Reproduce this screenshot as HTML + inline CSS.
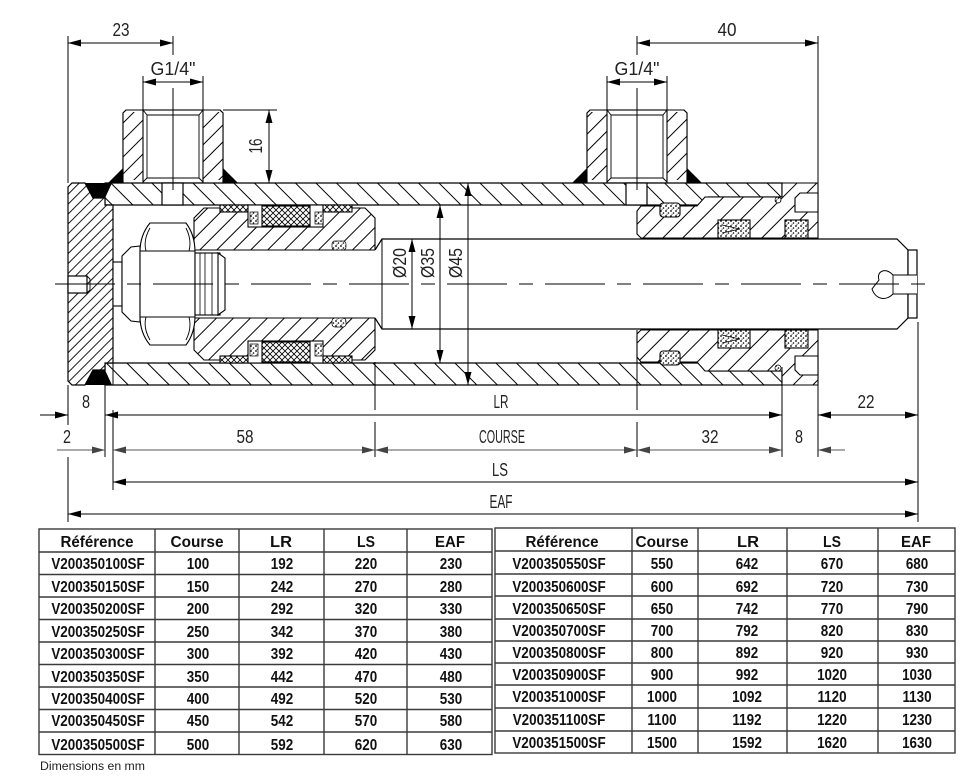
<!DOCTYPE html>
<html>
<head>
<meta charset="utf-8">
<style>
html,body{margin:0;padding:0;background:#fff;}
svg{display:block;}
.d{font-family:"Liberation Sans",sans-serif;font-size:18px;fill:#222;}
.t{font-family:"Liberation Sans",sans-serif;font-size:16px;font-weight:bold;fill:#111;}
</style>
</head>
<body>
<svg width="975" height="778" viewBox="0 0 975 778" xmlns="http://www.w3.org/2000/svg">
<defs>
  <pattern id="hT" patternUnits="userSpaceOnUse" width="14.5" height="14.5" patternTransform="rotate(-45)"><rect width="14.5" height="14.5" fill="#fff"/><line x1="7" y1="0" x2="7" y2="14.5" stroke="#000" stroke-width="1"/></pattern>
  <pattern id="hP" patternUnits="userSpaceOnUse" width="12" height="12" patternTransform="rotate(45)"><rect width="12" height="12" fill="#fff"/><line x1="6" y1="0" x2="6" y2="12" stroke="#000" stroke-width="1"/></pattern>
  <pattern id="hE" patternUnits="userSpaceOnUse" width="7" height="7" patternTransform="rotate(45)"><rect width="7" height="7" fill="#fff"/><line x1="3.5" y1="0" x2="3.5" y2="7" stroke="#000" stroke-width="0.9"/></pattern>
  <pattern id="hG" patternUnits="userSpaceOnUse" width="14" height="14" patternTransform="rotate(45)"><rect width="14" height="14" fill="#fff"/><line x1="7" y1="0" x2="7" y2="14" stroke="#000" stroke-width="1"/></pattern>
  <pattern id="hX" patternUnits="userSpaceOnUse" width="6" height="6"><rect width="6" height="6" fill="#fff"/><path d="M0,0 L6,6 M6,0 L0,6" stroke="#000" stroke-width="0.8"/></pattern>
  <pattern id="hS" patternUnits="userSpaceOnUse" width="5" height="5"><rect width="5" height="5" fill="#fff"/><circle cx="1" cy="1" r="0.9" fill="#000"/><circle cx="3.5" cy="3" r="0.8" fill="#000"/><circle cx="2" cy="4.3" r="0.5" fill="#000"/></pattern>
  <marker id="a" markerWidth="13" markerHeight="7" refX="13" refY="3.5" orient="auto-start-reverse" markerUnits="userSpaceOnUse"><path d="M0,0 L13,3.5 L0,7z" fill="#000"/></marker>
  <marker id="g" markerWidth="13" markerHeight="7" refX="13" refY="3.5" orient="auto-start-reverse" markerUnits="userSpaceOnUse"><path d="M0,0 L13,3.5 L0,7z" fill="#444"/></marker>
</defs>
<rect width="975" height="778" fill="#fff"/>

<!-- ===== PORTS ===== -->
<g stroke="#000" stroke-width="1.1">
  <polygon points="123,113 126,110 220,110 223,113 223,183 123,183" fill="#fff"/>
  <rect x="123" y="112" width="20" height="68" fill="url(#hP)" stroke="none"/>
  <rect x="203" y="112" width="20" height="68" fill="url(#hP)" stroke="none"/>
  <polygon points="123,113 126,110 220,110 223,113 223,183 123,183" fill="none"/>
  <rect x="143" y="110" width="60" height="73" fill="#fff"/>
  <path d="M147,115 H199 V178 H147 Z M143,110 L147,115 M203,110 L199,115 M143,182 L147,178 M203,182 L199,178" fill="none" stroke-width="0.9"/>
  <polygon points="587,113 590,110 684,110 687,113 687,183 587,183" fill="#fff"/>
  <rect x="587" y="112" width="20" height="68" fill="url(#hP)" stroke="none"/>
  <rect x="667" y="112" width="20" height="68" fill="url(#hP)" stroke="none"/>
  <polygon points="587,113 590,110 684,110 687,113 687,183 587,183" fill="none"/>
  <rect x="607" y="110" width="60" height="73" fill="#fff"/>
  <path d="M611,115 H663 V178 H611 Z M607,110 L611,115 M667,110 L663,115 M607,182 L611,178 M667,182 L663,178" fill="none" stroke-width="0.9"/>
</g>
<g fill="#000">
  <polygon points="108,183 123,183 123,168"/>
  <polygon points="223,168 238,183 223,183"/>
  <polygon points="572,183 587,183 587,168"/>
  <polygon points="687,168 702,183 687,183"/>
</g>

<!-- ===== TUBE ===== -->
<g stroke="#000" stroke-width="1.2">
  <polygon points="105,183 782,183 782,197 708,197 700,205 105,205" fill="url(#hT)"/>
  <polygon points="105,385 782,385 782,371 708,371 700,363 105,363" fill="url(#hT)"/>
  <rect x="162" y="183" width="21" height="22" fill="#fff"/>
  <rect x="626" y="183" width="21" height="22" fill="#fff"/>
</g>

<!-- ===== END CAP ===== -->
<g stroke="#000" stroke-width="1.2">
  <polygon points="68,187 72,183 85,183 93,198 105,198 105,205 113,205 113,363 105,363 105,370 93,370 85,385 72,385 68,381" fill="url(#hE)"/>
  <rect x="68" y="276" width="19" height="17" fill="#fff"/>
  <path d="M87,276 L90,279 V290 L87,293" fill="none" stroke-width="0.9"/>
</g>
<g fill="#000">
  <polygon points="85,183 112,183 105,198 93,198"/>
  <polygon points="85,385 112,385 105,370 93,370"/>
</g>

<!-- ===== PISTON ===== -->
<g stroke="#000" stroke-width="1.1">
  <polygon points="194,218 204,208 365,208 375,218 375,250 194,250" fill="url(#hP)"/>
  <polygon points="194,350 204,360 365,360 375,350 375,318 194,318" fill="url(#hP)"/>
  <rect x="220" y="205" width="28" height="7" fill="url(#hX)"/>
  <rect x="323" y="205" width="29" height="7" fill="url(#hX)"/>
  <rect x="248" y="205" width="75" height="22" fill="#fff"/>
  <rect x="262" y="206" width="48" height="20" fill="url(#hX)"/>
  <rect x="250" y="212" width="8" height="12" fill="url(#hS)" stroke-width="0.7"/>
  <rect x="315" y="212" width="8" height="12" fill="url(#hS)" stroke-width="0.7"/>
  <rect x="332" y="241" width="14" height="9" rx="3" fill="url(#hS)" stroke-width="0.7"/>
  <rect x="220" y="356" width="28" height="7" fill="url(#hX)"/>
  <rect x="323" y="356" width="29" height="7" fill="url(#hX)"/>
  <rect x="248" y="341" width="75" height="22" fill="#fff"/>
  <rect x="262" y="342" width="48" height="20" fill="url(#hX)"/>
  <rect x="250" y="344" width="8" height="12" fill="url(#hS)" stroke-width="0.7"/>
  <rect x="315" y="344" width="8" height="12" fill="url(#hS)" stroke-width="0.7"/>
  <rect x="332" y="318" width="14" height="9" rx="3" fill="url(#hS)" stroke-width="0.7"/>
</g>

<!-- ===== NUT / WASHER / THREAD ===== -->
<g stroke="#000" stroke-width="1.1" fill="#fff">
  <rect x="113" y="262" width="9" height="44"/>
  <polygon points="122,256 131,247 140,246 140,322 131,321 122,312"/>
  <path d="M150,223 L186,223 Q195,235 195,252 L195,316 Q195,333 186,345 L150,345 Q140,333 140,316 L140,252 Q140,235 150,223 Z"/>
  <path d="M140,251 H195 M140,317 H195 M146,251 Q143,240 150,228 M189,251 Q192,240 186,228 M146,317 Q143,328 150,340 M189,317 Q192,328 186,340" fill="none" stroke-width="0.9"/>
  <rect x="195" y="253" width="25" height="62"/>
  <polygon points="218,253 225,258 225,310 218,315"/>
  <path d="M200,253 V315 M205,253 V315 M212,253 V315" fill="none" stroke-width="0.8"/>
</g>

<!-- ===== ROD ===== -->
<g stroke="#000" stroke-width="1.2">
  <path d="M375,250 L382,239 L897,239 L908,250 L908,318 L897,329 L382,329 L375,318" fill="#fff"/>
  <path d="M382,239 V329" fill="none" stroke-width="1"/>
  <rect x="908" y="250" width="9" height="68" fill="#fff"/>
  <path d="M917,275 H893 C886,267 876,271 879,280 L872,289 C876,300 886,301 893,294 H917" fill="#fff" stroke-width="1"/>
  <path d="M893,275 V294" fill="none" stroke-width="0.9"/>
</g>

<!-- ===== GLAND ===== -->
<g stroke="#000" stroke-width="1.1">
  <polygon points="637,211 641,206 697,206 705,197 782,197 782,183 818,183 818,238 641,238 637,234" fill="url(#hG)"/>
  <polygon points="637,357 641,362 697,362 705,371 782,371 782,385 818,385 818,330 641,330 637,334" fill="url(#hG)"/>
  <polygon points="800,193 818,193 818,212 795,212 795,198" fill="#fff"/>
  <polygon points="800,375 818,375 818,356 795,356 795,370" fill="#fff"/>
  <rect x="660" y="203" width="20" height="14" rx="3" fill="url(#hS)"/>
  <rect x="660" y="351" width="20" height="14" rx="3" fill="url(#hS)"/>
  <rect x="718" y="220" width="32" height="18" fill="url(#hS)"/>
  <rect x="718" y="330" width="32" height="18" fill="url(#hS)"/>
  <rect x="785" y="220" width="23" height="18" fill="url(#hS)"/>
  <rect x="785" y="330" width="23" height="18" fill="url(#hS)"/>
  <path d="M722,225 L740,229 L722,233 M722,343 L740,339 L722,335" fill="none" stroke-width="0.8"/>
  <circle cx="778" cy="200" r="3" fill="url(#hS)" stroke-width="0.7"/>
  <circle cx="778" cy="368" r="3" fill="url(#hS)" stroke-width="0.7"/>
</g>

<!-- ===== CENTERLINES ===== -->
<g stroke="#000" stroke-width="1" fill="none">
  <line x1="55" y1="284" x2="930" y2="284" stroke-dasharray="60 12 14 12"/>
  <line x1="173" y1="36" x2="173" y2="55"/>
  <line x1="173" y1="88" x2="173" y2="190"/>
  <line x1="637" y1="36" x2="637" y2="55"/>
  <line x1="637" y1="88" x2="637" y2="190"/>
</g>

<!-- ===== EXTENSION LINES ===== -->
<g stroke="#000" stroke-width="1" fill="none">
  <line x1="68" y1="36" x2="68" y2="183"/>
  <line x1="143" y1="76" x2="143" y2="110"/>
  <line x1="203" y1="76" x2="203" y2="110"/>
  <line x1="607" y1="76" x2="607" y2="110"/>
  <line x1="667" y1="76" x2="667" y2="110"/>
  <line x1="223" y1="110" x2="277" y2="110"/>
  <line x1="818" y1="36" x2="818" y2="183"/>
  <line x1="68" y1="385" x2="68" y2="425"/>
  <line x1="68" y1="457" x2="68" y2="522"/>
  <line x1="105" y1="385" x2="105" y2="457"/>
  <line x1="113" y1="363" x2="113" y2="385"/>
  <line x1="113" y1="410" x2="113" y2="490"/>
  <line x1="375" y1="362" x2="375" y2="410"/>
  <line x1="375" y1="422" x2="375" y2="457"/>
  <line x1="637" y1="330" x2="637" y2="410"/>
  <line x1="637" y1="422" x2="637" y2="457"/>
  <line x1="782" y1="367" x2="782" y2="457"/>
  <line x1="818" y1="385" x2="818" y2="457"/>
  <line x1="918" y1="322" x2="918" y2="522"/>
</g>

<!-- ===== DIMENSION LINES ===== -->
<g stroke="#000" stroke-width="1" fill="none">
  <line x1="68" y1="43" x2="173" y2="43" marker-start="url(#a)" marker-end="url(#a)"/>
  <line x1="143" y1="82" x2="203" y2="82" marker-start="url(#a)" marker-end="url(#a)"/>
  <line x1="607" y1="82" x2="667" y2="82" marker-start="url(#a)" marker-end="url(#a)"/>
  <line x1="637" y1="43" x2="818" y2="43" marker-start="url(#a)" marker-end="url(#a)"/>
  <line x1="269" y1="110" x2="269" y2="183" marker-start="url(#a)" marker-end="url(#a)"/>
  <line x1="412" y1="239" x2="412" y2="329" marker-start="url(#a)" marker-end="url(#a)"/>
  <line x1="440" y1="205" x2="440" y2="363" marker-start="url(#a)" marker-end="url(#a)"/>
  <line x1="468" y1="183" x2="468" y2="385" marker-start="url(#a)" marker-end="url(#a)"/>
  <line x1="40" y1="415" x2="68" y2="415" marker-end="url(#a)"/>
  <line x1="105" y1="415" x2="782" y2="415" marker-start="url(#a)" marker-end="url(#a)"/>
  <line x1="818" y1="415" x2="918" y2="415" marker-start="url(#a)" marker-end="url(#a)"/>
  <line x1="113" y1="482" x2="918" y2="482" marker-start="url(#a)" marker-end="url(#a)"/>
  <line x1="68" y1="514" x2="918" y2="514" marker-start="url(#a)" marker-end="url(#a)"/>
</g>
<g stroke="#555" stroke-width="1" fill="none">
  <line x1="57" y1="450" x2="105" y2="450" marker-end="url(#g)"/>
  <line x1="113" y1="450" x2="375" y2="450" marker-start="url(#g)" marker-end="url(#g)"/>
  <line x1="375" y1="450" x2="637" y2="450" marker-start="url(#g)" marker-end="url(#g)"/>
  <line x1="637" y1="450" x2="782" y2="450" marker-start="url(#g)" marker-end="url(#g)"/>
  <line x1="845" y1="450" x2="818" y2="450" marker-end="url(#g)"/>
</g>

<!-- ===== DIMENSION TEXT ===== -->
<g class="d" text-anchor="middle">
  <text x="121" y="36" textLength="17" lengthAdjust="spacingAndGlyphs">23</text>
  <text x="173" y="75" textLength="45" lengthAdjust="spacingAndGlyphs">G1/4"</text>
  <text x="637" y="75" textLength="45" lengthAdjust="spacingAndGlyphs">G1/4"</text>
  <text x="727" y="36" textLength="19" lengthAdjust="spacingAndGlyphs">40</text>
  <text transform="translate(262,146) rotate(-90)" textLength="15" lengthAdjust="spacingAndGlyphs">16</text>
  <text transform="translate(406,263) rotate(-90)" textLength="30" lengthAdjust="spacingAndGlyphs">Ø20</text>
  <text transform="translate(434,263) rotate(-90)" textLength="30" lengthAdjust="spacingAndGlyphs">Ø35</text>
  <text transform="translate(462,263) rotate(-90)" textLength="30" lengthAdjust="spacingAndGlyphs">Ø45</text>
  <text x="86" y="408" textLength="8" lengthAdjust="spacingAndGlyphs">8</text>
  <text x="501" y="408" textLength="15" lengthAdjust="spacingAndGlyphs">LR</text>
  <text x="866" y="408" textLength="17" lengthAdjust="spacingAndGlyphs">22</text>
  <text x="67" y="443" textLength="8" lengthAdjust="spacingAndGlyphs">2</text>
  <text x="245" y="443" textLength="17" lengthAdjust="spacingAndGlyphs">58</text>
  <text x="502" y="443" textLength="46" lengthAdjust="spacingAndGlyphs">COURSE</text>
  <text x="710" y="443" textLength="17" lengthAdjust="spacingAndGlyphs">32</text>
  <text x="799" y="443" textLength="8" lengthAdjust="spacingAndGlyphs">8</text>
  <text x="500" y="476" textLength="16" lengthAdjust="spacingAndGlyphs">LS</text>
  <text x="501" y="508" textLength="23" lengthAdjust="spacingAndGlyphs">EAF</text>
</g>

<!-- ===== LEFT TABLE ===== -->
<g stroke="#3a3a3a" stroke-width="1.4" fill="none">
  <rect x="39" y="529" width="453" height="225.5"/>
  <path d="M155,529 V754.5 M239,529 V754.5 M324,529 V754.5 M407,529 V754.5"/>
  <path d="M39,552 H492 M39,574.5 H492 M39,597 H492 M39,619.5 H492 M39,642 H492 M39,664.5 H492 M39,687 H492 M39,709.5 H492 M39,732 H492"/>
</g>
<g class="t" text-anchor="middle">
  <text x="97" y="547" textLength="73" lengthAdjust="spacingAndGlyphs">Référence</text>
  <text x="197" y="547" textLength="53" lengthAdjust="spacingAndGlyphs">Course</text>
  <text x="281" y="547" textLength="22" lengthAdjust="spacingAndGlyphs">LR</text>
  <text x="366" y="547" textLength="18" lengthAdjust="spacingAndGlyphs">LS</text>
  <text x="450" y="547" textLength="30" lengthAdjust="spacingAndGlyphs">EAF</text>
</g>
<g class="t" text-anchor="middle" transform="scale(0.84,1)">
  <text x="116.7" y="569">V200350100SF</text><text x="235.7" y="569">100</text><text x="335.7" y="569">192</text><text x="435.7" y="569">220</text><text x="536.9" y="569">230</text>
  <text x="116.7" y="592">V200350150SF</text><text x="235.7" y="592">150</text><text x="335.7" y="592">242</text><text x="435.7" y="592">270</text><text x="536.9" y="592">280</text>
  <text x="116.7" y="614">V200350200SF</text><text x="235.7" y="614">200</text><text x="335.7" y="614">292</text><text x="435.7" y="614">320</text><text x="536.9" y="614">330</text>
  <text x="116.7" y="637">V200350250SF</text><text x="235.7" y="637">250</text><text x="335.7" y="637">342</text><text x="435.7" y="637">370</text><text x="536.9" y="637">380</text>
  <text x="116.7" y="659">V200350300SF</text><text x="235.7" y="659">300</text><text x="335.7" y="659">392</text><text x="435.7" y="659">420</text><text x="536.9" y="659">430</text>
  <text x="116.7" y="682">V200350350SF</text><text x="235.7" y="682">350</text><text x="335.7" y="682">442</text><text x="435.7" y="682">470</text><text x="536.9" y="682">480</text>
  <text x="116.7" y="704">V200350400SF</text><text x="235.7" y="704">400</text><text x="335.7" y="704">492</text><text x="435.7" y="704">520</text><text x="536.9" y="704">530</text>
  <text x="116.7" y="726">V200350450SF</text><text x="235.7" y="726">450</text><text x="335.7" y="726">542</text><text x="435.7" y="726">570</text><text x="536.9" y="726">580</text>
  <text x="116.7" y="750">V200350500SF</text><text x="235.7" y="750">500</text><text x="335.7" y="750">592</text><text x="435.7" y="750">620</text><text x="536.9" y="750">630</text>
</g>

<!-- ===== RIGHT TABLE ===== -->
<g stroke="#3a3a3a" stroke-width="1.4" fill="none">
  <rect x="495" y="528" width="460" height="225"/>
  <path d="M632,528 V753 M698,528 V753 M787,528 V753 M878,528 V753"/>
  <path d="M495,551 H955 M495,574 H955 M495,596 H955 M495,619 H955 M495,641 H955 M495,663 H955 M495,685 H955 M495,708 H955 M495,731 H955"/>
</g>
<g class="t" text-anchor="middle">
  <text x="562" y="547" textLength="73" lengthAdjust="spacingAndGlyphs">Référence</text>
  <text x="662" y="547" textLength="53" lengthAdjust="spacingAndGlyphs">Course</text>
  <text x="748" y="547" textLength="22" lengthAdjust="spacingAndGlyphs">LR</text>
  <text x="832" y="547" textLength="18" lengthAdjust="spacingAndGlyphs">LS</text>
  <text x="916" y="547" textLength="30" lengthAdjust="spacingAndGlyphs">EAF</text>
</g>
<g class="t" text-anchor="middle" transform="scale(0.84,1)">
  <text x="665.5" y="569">V200350550SF</text><text x="788.1" y="569">550</text><text x="889.3" y="569">642</text><text x="990.5" y="569">670</text><text x="1091.7" y="569">680</text>
  <text x="665.5" y="592">V200350600SF</text><text x="788.1" y="592">600</text><text x="889.3" y="592">692</text><text x="990.5" y="592">720</text><text x="1091.7" y="592">730</text>
  <text x="665.5" y="614">V200350650SF</text><text x="788.1" y="614">650</text><text x="889.3" y="614">742</text><text x="990.5" y="614">770</text><text x="1091.7" y="614">790</text>
  <text x="665.5" y="636">V200350700SF</text><text x="788.1" y="636">700</text><text x="889.3" y="636">792</text><text x="990.5" y="636">820</text><text x="1091.7" y="636">830</text>
  <text x="665.5" y="658">V200350800SF</text><text x="788.1" y="658">800</text><text x="889.3" y="658">892</text><text x="990.5" y="658">920</text><text x="1091.7" y="658">930</text>
  <text x="665.5" y="680">V200350900SF</text><text x="788.1" y="680">900</text><text x="889.3" y="680">992</text><text x="990.5" y="680">1020</text><text x="1091.7" y="680">1030</text>
  <text x="665.5" y="702">V200351000SF</text><text x="788.1" y="702">1000</text><text x="889.3" y="702">1092</text><text x="990.5" y="702">1120</text><text x="1091.7" y="702">1130</text>
  <text x="665.5" y="725">V200351100SF</text><text x="788.1" y="725">1100</text><text x="889.3" y="725">1192</text><text x="990.5" y="725">1220</text><text x="1091.7" y="725">1230</text>
  <text x="665.5" y="748">V200351500SF</text><text x="788.1" y="748">1500</text><text x="889.3" y="748">1592</text><text x="990.5" y="748">1620</text><text x="1091.7" y="748">1630</text>
</g>

<text x="40" y="770" font-family="Liberation Sans, sans-serif" font-size="11.5" fill="#222" textLength="105" lengthAdjust="spacingAndGlyphs">Dimensions en mm</text>
</svg>
</body>
</html>
